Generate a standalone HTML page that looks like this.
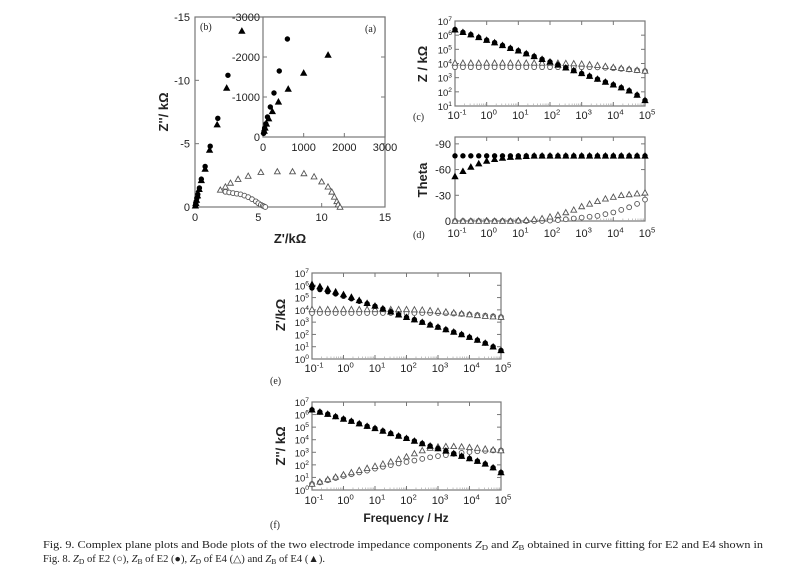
<!DOCTYPE html>
<html><head><meta charset="utf-8"><style>
html,body{margin:0;padding:0;background:#fff;}
svg{display:block;font-family:"Liberation Sans",sans-serif;}
.cap{font-family:"Liberation Serif",serif;font-size:10.5px;fill:#222;}
</style></head><body>
<svg id="fig" width="800" height="580" viewBox="0 0 800 580" xmlns="http://www.w3.org/2000/svg">
<g id="layer"></g>
<text class="cap" x="43" y="548" textLength="720" lengthAdjust="spacingAndGlyphs">Fig. 9.  Complex plane plots and Bode plots of the two electrode impedance components <tspan font-style="italic">Z</tspan><tspan font-size="7.5" dy="2">D</tspan><tspan dy="-2"> and </tspan><tspan font-style="italic">Z</tspan><tspan font-size="7.5" dy="2">B</tspan><tspan dy="-2"> obtained in curve fitting for E2 and E4 shown in</tspan></text>
<text class="cap" x="43" y="562" textLength="282" lengthAdjust="spacingAndGlyphs">Fig. 8. <tspan font-style="italic">Z</tspan><tspan font-size="7.5" dy="2">D</tspan><tspan dy="-2"> of E2 (○), </tspan><tspan font-style="italic">Z</tspan><tspan font-size="7.5" dy="2">B</tspan><tspan dy="-2"> of E2 (●), </tspan><tspan font-style="italic">Z</tspan><tspan font-size="7.5" dy="2">D</tspan><tspan dy="-2"> of E4 (△) and </tspan><tspan font-style="italic">Z</tspan><tspan font-size="7.5" dy="2">B</tspan><tspan dy="-2"> of E4 (▲).</tspan></text>
</svg>
<script>
// ---------- data ----------
const freq = [0.1,0.178,0.316,0.562,1,1.78,3.16,5.62,10,17.8,31.6,56.2,100,178,316,562,1000,1780,3160,5620,10000,17800,31600,56200,100000];
// panel c |Z|
const cMagZBE2 = [2.5e6,1.6e6,1.1e6,7e5,4.5e5,3e5,1.9e5,1.2e5,8e4,5e4,3.2e4,2e4,1.3e4,8e3,5e3,3.2e3,2e3,1.3e3,800,500,320,200,120,60,25];
const cMagZBE4 = [2.4e6,1.6e6,1.1e6,7e5,4.5e5,3e5,1.9e5,1.2e5,8e4,5e4,3.2e4,2e4,1.3e4,8e3,5e3,3.2e3,2e3,1.3e3,800,500,320,200,120,60,25];
const cMagZDE2 = [5500,5500,5500,5500,5500,5500,5500,5500,5500,5500,5500,5500,5500,5500,5500,5500,5500,5500,5300,5000,4600,4200,3800,3300,2900];
const cMagZDE4 = [11000,11000,11000,11000,11000,11000,11000,11000,11000,11000,11000,11000,11000,11000,10500,10000,9500,8500,7500,6500,5500,4700,4000,3400,3000];
// panel d theta (negative degrees shown as positive magnitude)
const dThZBE2 = [76,76,76,76,76,76,76,76,76,76,76,76,76,76,76,76,76,76,76,76,76,76,76,76,76];
const dThZBE4 = [52,58,63,67,70,72,73.5,74.5,75,75.5,76,76,76,76,76,76,76,76,76,76,76,76,76,76,76];
const dThZDE2 = [0,0,0,0,0,0,0,0,0,0,0,0,0.5,1,2,3,4,5,6,8,10,13,16,20,25];
const dThZDE4 = [0,0,0,0,0,0,0,0,0.5,1,2,3,5,7,10,13,17,20,23,26,28,30,31,32,33];
// panel e Z'
const eReZBE2 = [6e5,4.5e5,3e5,2e5,1.3e5,8e4,5e4,3.2e4,2e4,1.2e4,7000,4000,2500,1600,1000,600,400,250,160,100,60,35,20,10,5];
const eReZBE4 = [1.2e6,8e5,5e5,3e5,1.8e5,1.1e5,6e4,3.5e4,2.1e4,1.25e4,7000,4000,2500,1600,1000,600,400,250,160,100,60,35,20,10,5];
const eReZDE2 = [5500,5500,5500,5500,5500,5500,5500,5500,5500,5500,5500,5500,5500,5500,5500,5500,5500,5300,5000,4600,4200,3800,3400,3000,2600];
const eReZDE4 = [11000,11000,11000,11000,11000,11000,11000,11000,11000,11000,11000,11000,11000,10500,10000,9000,8000,7000,6000,5000,4200,3600,3100,2800,2600];
// panel f Z''
const fImZBE2 = [2.4e6,1.6e6,1.1e6,7e5,4.5e5,3e5,1.9e5,1.2e5,8e4,5e4,3.2e4,2e4,1.3e4,8e3,5e3,3.2e3,2e3,1.3e3,800,500,320,200,120,60,25];
const fImZBE4 = [2.4e6,1.6e6,1.1e6,7e5,4.5e5,3e5,1.9e5,1.2e5,8e4,5e4,3.2e4,2e4,1.3e4,8e3,5e3,3.2e3,2e3,1.3e3,800,500,320,200,120,60,25];
const fImZDE2 = [3,4,6,9,13,18,25,35,50,70,95,130,170,220,300,400,500,600,750,900,1050,1200,1300,1400,1400];
const fImZDE4 = [3,4.5,7,11,17,25,38,55,80,120,180,280,450,800,1400,2200,2800,3000,3000,2800,2500,2200,1900,1600,1400];
// panel b Nyquist (kOhm)
const bZBE2x = [2.6,1.8,1.2,0.8,0.5,0.35,0.22,0.15,0.1,0.06,0.03];
const bZBE2y = [10.4,7.0,4.8,3.2,2.2,1.5,1.0,0.7,0.45,0.25,0.1];
const bZBE4x = [3.7,2.5,1.75,1.15,0.8,0.5,0.33,0.2,0.12,0.07,0.03];
const bZBE4y = [13.9,9.4,6.5,4.5,3.0,2.1,1.4,0.9,0.55,0.3,0.1];
const bZDE2x = [2.4,2.7,3.0,3.3,3.6,3.9,4.2,4.5,4.8,5.0,5.2,5.35,5.45,5.55];
const bZDE2y = [1.2,1.15,1.1,1.05,1.0,0.9,0.78,0.62,0.45,0.3,0.18,0.1,0.05,0.0];
const bZDE4x = [2.0,2.4,2.8,3.4,4.2,5.2,6.5,7.7,8.6,9.4,10.0,10.5,10.8,11.0,11.2,11.3,11.45];
const bZDE4y = [1.35,1.6,1.9,2.2,2.45,2.75,2.8,2.8,2.65,2.4,2.0,1.6,1.2,0.8,0.45,0.2,0.0];
// inset a (Ohm)
const aZBE2x = [600,400,270,180,110,70,40,25,15];
const aZBE2y = [2450,1650,1100,750,500,330,220,140,90];
const aZBE4x = [1600,1000,620,380,230,140,85,50,30];
const aZBE4y = [2050,1600,1200,880,640,460,330,230,150];
// ticks
const bTicks = [0,5,10,15];
const bTickLabels = ["0","5","10","15"];
const bYTickLabels = ["0","-5","-10","-15"];
const aTicks = [0,1000,2000,3000];
const aXTickLabels = ["0","1000","2000","3000"];
const aYTickLabels = ["0","-1000","-2000","-3000"];
const logXExps = [-1,0,1,2,3,4,5];
const cYExps = [1,2,3,4,5,6,7];
const efYExps = [0,1,2,3,4,5,6,7];
const dTicks = [0,30,60,90];
const dTickLabels = ["0","-30","-60","-90"];

// ---------- drawing ----------
const NS = "http://www.w3.org/2000/svg";
const layer = document.getElementById('layer');
function mk(tag, attrs, parent){
  const e = document.createElementNS(NS, tag);
  for (const k in attrs) e.setAttribute(k, attrs[k]);
  (parent||layer).appendChild(e);
  return e;
}
function linScale(d0,d1,r0,r1){return v=>r0+(v-d0)/(d1-d0)*(r1-r0);}
function logScale(e0,e1,r0,r1){return v=>r0+(Math.log10(v)-e0)/(e1-e0)*(r1-r0);}
function marker(g, kind, x, y){
  let el;
  if (kind==='oc'){ el = mk('circle',{cx:x,cy:y,r:2.4,fill:'#fff',stroke:'#555','stroke-width':0.9},g); }
  else if (kind==='fc'){ el = mk('circle',{cx:x,cy:y,r:2.7,fill:'#000'},g); }
  else { const s=2.9; el = mk('polygon',{points:`${x},${y-s} ${x-s},${y+s*0.8} ${x+s},${y+s*0.8}`,fill:kind==='ft'?'#000':'#fff',stroke:kind==='ft'?'#000':'#555','stroke-width':0.9},g); }
  
  
}
function series(name, kind, xs, ys, sx, sy){
  const g = mk('g',{});
  
  
  for (let i=0;i<xs.length;i++) marker(g, kind, sx(xs[i]), sy(ys[i]));
}
function frame(name,x0,y0,x1,y1){
  const r = mk('rect',{x:x0,y:y0,width:x1-x0,height:y1-y0,fill:'none',stroke:'#777','stroke-width':1.2});
  
  
}
function text(name,x,y,str,opts){
  const t = mk('text',Object.assign({x:x,y:y,'font-size':11,fill:'#222'},opts||{}));
  t.textContent = str;
  
  
  return t;
}
function powLabel(name,x,y,exp,anchor,fs){
  fs = fs||11;
  const t = mk('text',{x:x,y:y,'font-size':fs,fill:'#222','text-anchor':anchor||'middle'});
  
  
  const a = mk('tspan',{},t); a.textContent='10';
  const b = mk('tspan',{dy:-fs*0.42,'font-size':fs*0.7},t); b.textContent=String(exp);
}
function logXAxis(pfx,sx,x0,x1,y0,y1,labelY){
  logXExps.forEach(e=>{
    const x = sx(Math.pow(10,e));
    mk('line',{x1:x,y1:y1,x2:x,y2:y1-4,stroke:'#777'});
    mk('line',{x1:x,y1:y0,x2:x,y2:y0+4,stroke:'#777'});
    powLabel(pfx+'-x-tick-label',x+2,labelY,e);
    if (e<5) for (let m=2;m<10;m++){
      const xm = sx(m*Math.pow(10,e));
      mk('line',{x1:xm,y1:y1,x2:xm,y2:y1-2.5,stroke:'#aaa','stroke-width':0.7});
    }
  });
}
function logYAxis(pfx,sy,exps,x0,x1){
  exps.forEach(e=>{
    const y = sy(Math.pow(10,e));
    mk('line',{x1:x0,y1:y,x2:x0+4,y2:y,stroke:'#777'});
    mk('line',{x1:x1,y1:y,x2:x1-4,y2:y,stroke:'#777'});
    powLabel(pfx+'-y-tick-label',x0-3,y+4,e,'end',9.5);
  });
}
function rotTitle(name,x,y,str){
  const t = text(name,x,y,str,{'font-size':13,'font-weight':'bold','text-anchor':'middle',transform:`rotate(-90 ${x} ${y})`});
  return t;
}

// Panel b
(function(){
  const X0=195,X1=385,Y0=17,Y1=207;
  const sx=linScale(0,15,X0,X1), sy=linScale(0,15,Y1,Y0);
  frame('panel-b-frame',X0,Y0,X1,Y1);
  bTicks.forEach((v,i)=>{
    mk('line',{x1:sx(v),y1:Y1,x2:sx(v),y2:Y1-4,stroke:'#777'});
    mk('line',{x1:X0,y1:sy(v),x2:X0+4,y2:sy(v),stroke:'#777'});
    mk('line',{x1:X1,y1:sy(v),x2:X1-4,y2:sy(v),stroke:'#777'});
    text('panel-b-x-tick-label',sx(v),221,bTickLabels[i],{'text-anchor':'middle'});
    text('panel-b-y-tick-label',X0-5,sy(v)+4,bYTickLabels[i],{'text-anchor':'end'});
  });
  text('panel-b-label',200,30,'(b)',{'font-family':'Liberation Serif, serif','font-size':10});
  text('panel-b-x-title',290,243,"Z'/kΩ",{'font-size':13,'font-weight':'bold','text-anchor':'middle'});
  rotTitle('panel-b-y-title',168,112,"Z''/ kΩ");
  series('zd-e2-nyquist','oc',bZDE2x,bZDE2y,sx,sy);
  series('zd-e4-nyquist','ot',bZDE4x,bZDE4y,sx,sy);
  series('zb-e2-nyquist','fc',bZBE2x,bZBE2y,sx,sy);
  series('zb-e4-nyquist','ft',bZBE4x,bZBE4y,sx,sy);
  // inset a
  const A0=263,A1=385,B0=17,B1=137;
  const ax=linScale(0,3000,A0,A1), ay=linScale(0,3000,B1,B0);
  mk('rect',{x:A0,y:B0,width:A1-A0,height:B1-B0,fill:'#fff',stroke:'#777','stroke-width':1.2});
  aTicks.forEach((v,i)=>{
    mk('line',{x1:ax(v),y1:B1,x2:ax(v),y2:B1-4,stroke:'#777'});
    mk('line',{x1:A0,y1:ay(v),x2:A0+4,y2:ay(v),stroke:'#777'});
    mk('line',{x1:A1,y1:ay(v),x2:A1-4,y2:ay(v),stroke:'#777'});
    text('inset-a-x-tick-label',ax(v),151,aXTickLabels[i],{'text-anchor':'middle'});
    text('inset-a-y-tick-label',A0-3,ay(v)+4,aYTickLabels[i],{'text-anchor':'end'});
  });
  text('inset-a-label',365,32,'(a)',{'font-family':'Liberation Serif, serif','font-size':10});
  series('zb-e2-inset','fc',aZBE2x,aZBE2y,ax,ay);
  series('zb-e4-inset','ft',aZBE4x,aZBE4y,ax,ay);
})();

// Panel c
(function(){
  const X0=455,X1=645,Y0=21,Y1=106;
  const sx=logScale(-1,5,X0,X1), sy=logScale(1,7,Y1,Y0);
  frame('panel-c-frame',X0,Y0,X1,Y1);
  logXAxis('panel-c',sx,X0,X1,Y0,Y1,119);
  logYAxis('panel-c',sy,cYExps,X0,X1);
  text('panel-c-label',413,120,'(c)',{'font-family':'Liberation Serif, serif','font-size':10});
  rotTitle('panel-c-y-title',427,64,'Z / kΩ');
  series('zd-e2-mag','oc',freq,cMagZDE2,sx,sy);
  series('zd-e4-mag','ot',freq,cMagZDE4,sx,sy);
  series('zb-e4-mag','ft',freq,cMagZBE4,sx,sy);
  series('zb-e2-mag','fc',freq,cMagZBE2,sx,sy);
})();

// Panel d
(function(){
  const X0=455,X1=645,Y0=137,Y1=221;
  const sx=logScale(-1,5,X0,X1), sy=linScale(0,98,Y1,Y0);
  frame('panel-d-frame',X0,Y0,X1,Y1);
  logXAxis('panel-d',sx,X0,X1,Y0,Y1,237);
  dTicks.forEach((v,i)=>{
    mk('line',{x1:X0,y1:sy(v),x2:X0+4,y2:sy(v),stroke:'#777'});
    mk('line',{x1:X1,y1:sy(v),x2:X1-4,y2:sy(v),stroke:'#777'});
    text('panel-d-y-tick-label',X0-4,sy(v)+4,dTickLabels[i],{'text-anchor':'end'});
  });
  text('panel-d-label',413,238,'(d)',{'font-family':'Liberation Serif, serif','font-size':10});
  rotTitle('panel-d-y-title',427,180,'Theta');
  series('zd-e2-theta','oc',freq,dThZDE2,sx,sy);
  series('zd-e4-theta','ot',freq,dThZDE4,sx,sy);
  series('zb-e2-theta','fc',freq,dThZBE2,sx,sy);
  series('zb-e4-theta','ft',freq,dThZBE4,sx,sy);
})();

// Panel e
(function(){
  const X0=312,X1=501,Y0=273,Y1=359;
  const sx=logScale(-1,5,X0,X1), sy=logScale(0,7,Y1,Y0);
  frame('panel-e-frame',X0,Y0,X1,Y1);
  logXAxis('panel-e',sx,X0,X1,Y0,Y1,372);
  logYAxis('panel-e',sy,efYExps,X0,X1);
  text('panel-e-label',270,384,'(e)',{'font-family':'Liberation Serif, serif','font-size':10});
  rotTitle('panel-e-y-title',285,315,"Z'/kΩ");
  series('zd-e2-real','oc',freq,eReZDE2,sx,sy);
  series('zd-e4-real','ot',freq,eReZDE4,sx,sy);
  series('zb-e4-real','ft',freq,eReZBE4,sx,sy);
  series('zb-e2-real','fc',freq,eReZBE2,sx,sy);
})();

// Panel f
(function(){
  const X0=312,X1=501,Y0=402,Y1=490;
  const sx=logScale(-1,5,X0,X1), sy=logScale(0,7,Y1,Y0);
  frame('panel-f-frame',X0,Y0,X1,Y1);
  logXAxis('panel-f',sx,X0,X1,Y0,Y1,504);
  logYAxis('panel-f',sy,efYExps,X0,X1);
  text('panel-f-label',270,528,'(f)',{'font-family':'Liberation Serif, serif','font-size':10});
  rotTitle('panel-f-y-title',285,446,"Z''/ kΩ");
  text('panel-f-x-title',406,522,'Frequency / Hz',{'font-size':12,'font-weight':'bold','text-anchor':'middle'});
  series('zd-e2-imag','oc',freq,fImZDE2,sx,sy);
  series('zd-e4-imag','ot',freq,fImZDE4,sx,sy);
  series('zb-e4-imag','ft',freq,fImZBE4,sx,sy);
  series('zb-e2-imag','fc',freq,fImZBE2,sx,sy);
})();
</script>
</body></html>
